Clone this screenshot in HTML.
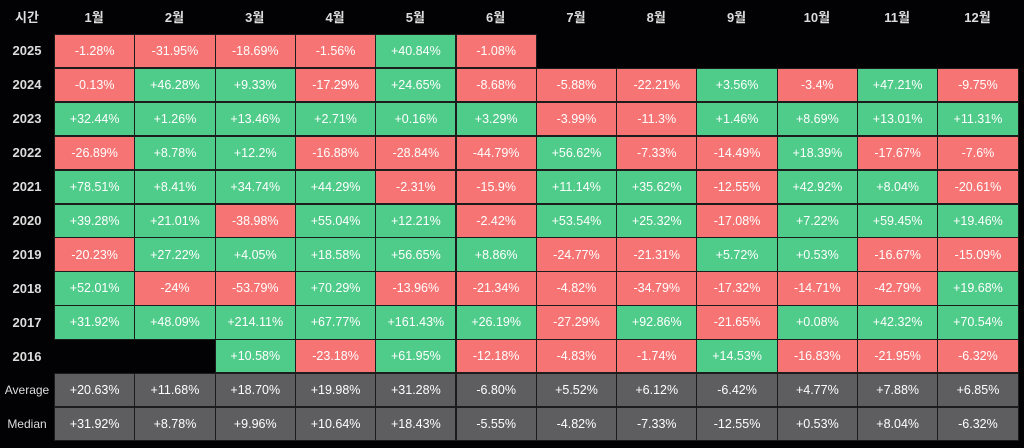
<!DOCTYPE html>
<html><head><meta charset="utf-8"><style>
body{margin:0;background:#000;width:1024px;height:448px;overflow:hidden;font-family:"Liberation Sans","Noto Sans CJK KR",sans-serif}
#wrap{position:relative;width:1024px;height:448px;background:#020204}
.c{position:absolute;box-sizing:border-box;border:1px solid #1c1c1c;color:#fff;font-size:12.5px;display:flex;align-items:center;justify-content:center}
.h{position:absolute;color:#ddd;font-size:13px;font-weight:bold;display:flex;align-items:center;justify-content:center}
</style></head><body>
<div id="wrap"></div>
<script>
const months=["1월","2월","3월","4월","5월","6월","7월","8월","9월","10월","11월","12월"];
const rowLabels=["2025","2024","2023","2022","2021","2020","2019","2018","2017","2016","Average","Median"];
const v2025=[-1.28,-31.95,-18.69,-1.56,40.84,-1.08,null,null,null,null,null,null];
const v2024=[-0.13,46.28,9.33,-17.29,24.65,-8.68,-5.88,-22.21,3.56,-3.4,47.21,-9.75];
const v2023=[32.44,1.26,13.46,2.71,0.16,3.29,-3.99,-11.3,1.46,8.69,13.01,11.31];
const v2022=[-26.89,8.78,12.2,-16.88,-28.84,-44.79,56.62,-7.33,-14.49,18.39,-17.67,-7.6];
const v2021=[78.51,8.41,34.74,44.29,-2.31,-15.9,11.14,35.62,-12.55,42.92,8.04,-20.61];
const v2020=[39.28,21.01,-38.98,55.04,12.21,-2.42,53.54,25.32,-17.08,7.22,59.45,19.46];
const v2019=[-20.23,27.22,4.05,18.58,56.65,8.86,-24.77,-21.31,5.72,0.53,-16.67,-15.09];
const v2018=[52.01,-24,-53.79,70.29,-13.96,-21.34,-4.82,-34.79,-17.32,-14.71,-42.79,19.68];
const v2017=[31.92,48.09,214.11,67.77,161.43,26.19,-27.29,92.86,-21.65,0.08,42.32,70.54];
const v2016=[null,null,10.58,-23.18,61.95,-12.18,-4.83,-1.74,14.53,-16.83,-21.95,-6.32];
const vAvg=[20.63,11.68,18.70,19.98,31.28,-6.80,5.52,6.12,-6.42,4.77,7.88,6.85];
const vMed=[31.92,8.78,9.96,10.64,18.43,-5.55,-4.82,-7.33,-12.55,0.53,8.04,-6.32];
const rows=[v2025,v2024,v2023,v2022,v2021,v2020,v2019,v2018,v2017,v2016,vAvg,vMed];
const X0=54,CW=80.3,Y0=34,RH=33.9;
const colX=i=>X0+i*CW, rowY=j=>Y0+j*RH;
const W=document.getElementById('wrap');
const h0=document.createElement('div');h0.className='h';


h0.style.cssText='left:0;top:0;width:54px;height:32px';h0.textContent='시간';W.appendChild(h0);
months.forEach((m,i)=>{const d=document.createElement('div');d.className='h';


d.style.left=colX(i)+'px';d.style.top='0px';d.style.width=CW+'px';d.style.height='32px';d.textContent=m;W.appendChild(d);});
rows.forEach((r,j)=>{
const l=document.createElement('div');l.className='h';


l.style.cssText=`left:0;top:${rowY(j)}px;width:54px;height:${RH}px;font-weight:${j>=10?'normal':'bold'};font-size:${j>=10?12:13}px`;
l.textContent=rowLabels[j];W.appendChild(l);
const stat=j>=10;
r.forEach((v,i)=>{if(v===null)return;
const c=document.createElement('div');c.className='c';


c.style.left=colX(i)+'px';c.style.top=rowY(j)+'px';c.style.width=(CW+1)+'px';c.style.height=(RH+0.5)+'px';
c.style.background=stat?'#5e5e61':(v<0?'#f77474':'#4fcb8a');
c.textContent=stat?(v>=0?'+':'')+v.toFixed(2)+'%':(v>0?'+':'')+v+'%';
W.appendChild(c);});
});
</script></body></html>
